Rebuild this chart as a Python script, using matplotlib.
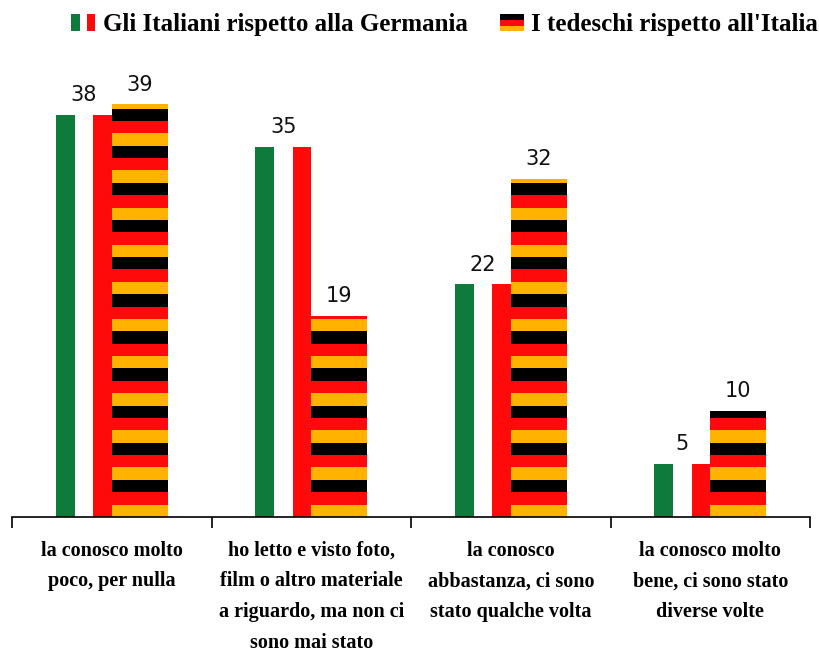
import numpy as np
import matplotlib.pyplot as plt
from matplotlib.patches import Rectangle
from matplotlib.legend_handler import HandlerBase

# dati
categorie = ["la conosco molto\npoco, per nulla",
             "ho letto e visto foto,\nfilm o altro materiale\na riguardo, ma non ci\nsono mai stato",
             "la conosco\nabbastanza, ci sono\nstato qualche volta",
             "la conosco molto\nbene, ci sono stato\ndiverse volte"]
italiani = [38, 35, 22, 5]
tedeschi = [39, 19, 32, 10]
serie = ["Gli Italiani rispetto alla Germania", "I tedeschi rispetto all'Italia"]

# colori
verde = '#0e7a3c'
rosso = '#ff0a0a'
oro = '#ffb300'
nero = '#000000'

bw = 0.28        # larghezza di una barra
striscia = 1.17  # altezza di una striscia tedesca (unita' dati)


class HandlerItalia(HandlerBase):
    def create_artists(self, legend, orig_handle, xd, yd, w, h, fontsize, trans):
        r1 = Rectangle((-xd, -yd), w * 0.37, h, fc=verde, ec='none', transform=trans)
        r2 = Rectangle((-xd + w * 0.66, -yd), w * 0.34, h, fc=rosso, ec='none', transform=trans)
        return [r1, r2]


class HandlerGermania(HandlerBase):
    def create_artists(self, legend, orig_handle, xd, yd, w, h, fontsize, trans):
        out = []
        for i, c in enumerate([oro, rosso, nero]):
            out.append(Rectangle((-xd, -yd + i * h / 3), w, h / 3, fc=c, ec='none', transform=trans))
        return out


fig = plt.figure(figsize=(8.19, 6.56), dpi=100)
ax = fig.add_axes([0.0147, 0.2119, 0.9744, 0.7256])

x = np.arange(len(categorie))

# barre italiane: verde / bianco / rosso verticali
for i, c in enumerate([verde, 'white', rosso]):
    ax.bar(x - bw + i * bw / 3, italiani, width=bw / 3, align='edge', color=c, linewidth=0)

# barre tedesche: strisce orizzontali oro / rosso / nero dal basso
colori_de = [oro, rosso, nero]
for xi, v in zip(x, tedeschi):
    b = 0.0
    k = 0
    while b < v - 1e-9:
        hgt = min(striscia, v - b)
        ax.bar(xi, hgt, bottom=b, width=bw, align='edge', color=colori_de[k % 3], linewidth=0)
        b += hgt
        k += 1

# etichette valori
for xi, v in zip(x, italiani):
    ax.annotate(str(v), (xi - bw / 2, v), xytext=(0, 7), textcoords='offset points',
                ha='center', va='bottom', fontsize=15, color='#111111')
for xi, v in zip(x, tedeschi):
    ax.annotate(str(v), (xi + bw / 2, v), xytext=(0, 7), textcoords='offset points',
                ha='center', va='bottom', fontsize=15, color='#111111')

ax.set_xlim(-0.5, len(categorie) - 0.5)
ax.set_ylim(0, 45)
ax.set_yticks([])
for s in ['left', 'top', 'right']:
    ax.spines[s].set_visible(False)
ax.spines['bottom'].set_linewidth(1.2)

ax.set_xticks(np.arange(len(categorie) + 1) - 0.5)
ax.set_xticklabels([])
ax.tick_params(axis='x', which='major', length=8, width=1.2, direction='out')
ax.set_xticks(x, minor=True)
ax.set_xticklabels(categorie, minor=True, fontfamily='Liberation Serif', fontweight='bold',
                   fontsize=14.5, linespacing=1.72)
ax.tick_params(axis='x', which='minor', length=0, pad=17)

# legenda
h1 = Rectangle((0, 0), 1, 1)
h2 = Rectangle((0, 0), 1, 1)
fig.legend([h1, h2], serie, handler_map={h1: HandlerItalia(), h2: HandlerGermania()},
           loc='center', bbox_to_anchor=(0.543, 0.962), ncol=2, frameon=False,
           prop={'family': 'Liberation Serif', 'weight': 'bold', 'size': 18},
           handlelength=0.95, handleheight=0.68, handletextpad=0.3, columnspacing=1.3,
           borderpad=0, borderaxespad=0)

fig.savefig('out.png', dpi=100)
